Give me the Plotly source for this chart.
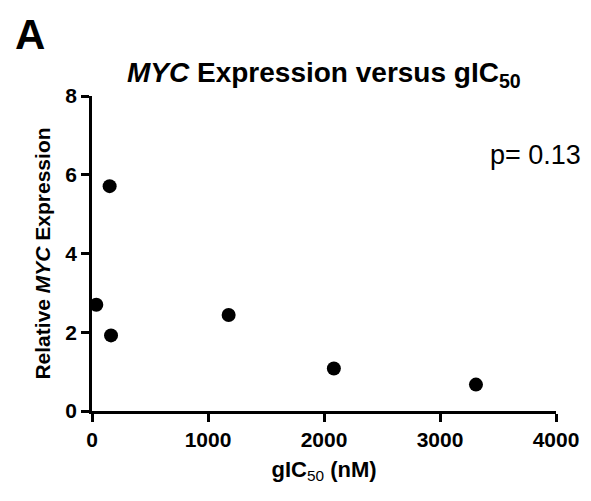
import plotly.graph_objects as go

gic50_nM = [37, 152, 164, 1178, 2085, 3310]
relative_myc = [2.70, 5.71, 1.92, 2.44, 1.08, 0.67]
x_ticks = [0, 1000, 2000, 3000, 4000]
y_ticks = [0, 2, 4, 6, 8]
p_text = "p= 0.13"

FONT = "Arial, Liberation Sans, sans-serif"

fig = go.Figure()
fig.add_trace(go.Scatter(
    x=gic50_nM, y=relative_myc, mode="markers",
    marker=dict(color="black", size=14, line=dict(width=0)),
    cliponaxis=False, showlegend=False,
))

axis_common = dict(
    showgrid=False, zeroline=False, showline=True, linecolor="black", linewidth=2.5,
    ticks="outside", ticklen=8, tickwidth=2.5, tickcolor="black",
    tickfont=dict(family=FONT, size=21, color="black", weight="bold"),
    mirror=False,
)

# body has an 8px margin in the page, so the figure is 8px smaller
fig.update_layout(
    width=583, height=493,
    margin=dict(l=84, r=35, t=88, b=90),
    paper_bgcolor="white", plot_bgcolor="white",
    font=dict(family=FONT, color="black"),
    xaxis=dict(range=[0, 4000], tickvals=x_ticks, ticktext=[str(v) for v in x_ticks],
               title=dict(text="<b>gIC</b><sub>50</sub><b> (nM)</b>",
                          font=dict(family=FONT, size=22, color="black"), standoff=12),
               **axis_common),
    yaxis=dict(range=[0, 8], tickvals=y_ticks, ticktext=[str(v) for v in y_ticks],
               title=dict(text="<b>Relative <i>MYC</i> Expression</b>",
                          font=dict(family=FONT, size=21, color="black"), standoff=10),
               **axis_common),
    annotations=[
        dict(text="<b><i>MYC</i> Expression versus gIC<sub>50</sub></b>",
             xref="paper", yref="paper", x=0.5, y=1.0, xshift=0, yshift=22,
             xanchor="center", yanchor="middle", showarrow=False,
             font=dict(family=FONT, size=28, color="black")),
        dict(text="<b>A</b>", xref="paper", yref="paper", x=0, y=1, xshift=-62, yshift=62,
             xanchor="center", yanchor="middle", showarrow=False,
             font=dict(family=FONT, size=42, color="black")),
        dict(text=p_text, xref="paper", yref="paper", x=1, y=1, xshift=27, yshift=-59,
             xanchor="right", yanchor="middle", showarrow=False,
             font=dict(family=FONT, size=27, color="black")),
    ],
)

fig.write_html("out.html")
